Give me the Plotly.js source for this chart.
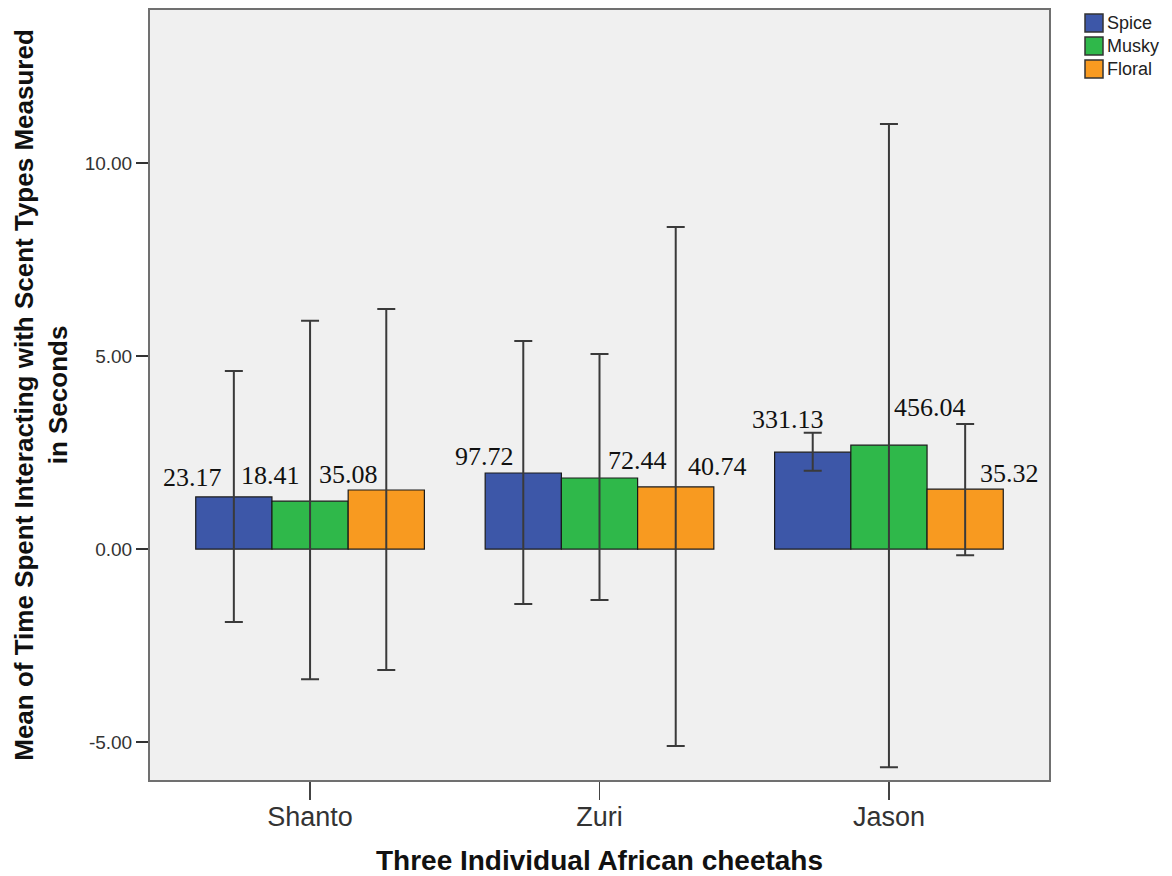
<!DOCTYPE html>
<html>
<head>
<meta charset="utf-8">
<script src="https://cdn.plot.ly/plotly-3.0.1.min.js"></script>
<style>
  html, body { margin: 0; padding: 0; background: #ffffff; }
  #chart { width: 1172px; height: 876px; }
</style>
</head>
<body>
<div id="chart"></div>
<script>
// ---- data ----
var cheetahs = ['Shanto', 'Zuri', 'Jason'];
var seriesNames = ['Spice', 'Musky', 'Floral'];

var meanSpice  = [1.35, 1.97, 2.51];
var meanMusky  = [1.24, 1.84, 2.69];
var meanFloral = [1.53, 1.61, 1.55];

var upperSpice  = [4.61, 5.39, 3.01];
var lowerSpice  = [-1.89, -1.42, 2.03];
var upperMusky  = [5.91, 5.05, 11.01];
var lowerMusky  = [-3.37, -1.32, -5.65];
var upperFloral = [6.22, 8.34, 3.24];
var lowerFloral = [-3.13, -5.10, -0.16];

var labelSpice  = ['23.17', '97.72', '331.13'];
var labelMusky  = ['18.41', '72.44', '456.04'];
var labelFloral = ['35.08', '40.74', '35.32'];

var yTickVals = [-5, 0, 5, 10];
var yTickText = ['-5.00', '0.00', '5.00', '10.00'];

// ---- style ----
var colors = ['#3d57a8', '#2fb84a', '#f89a20'];
var bargap = 0.21;
// label offsets in px relative to bar centre / bar top
var labelXShift = [[-41, -39, -25], [-40, 38, 41], [-38, 42, 44]];
var labelYShift = [[19, 17, 33], [26, 18, 38], [15, 20, 16]];

var means  = [meanSpice, meanMusky, meanFloral];
var uppers = [upperSpice, upperMusky, upperFloral];
var lowers = [lowerSpice, lowerMusky, lowerFloral];
var labels = [labelSpice, labelMusky, labelFloral];

var traces = [];
for (var k = 0; k < 3; k++) {
  (function (k) {
    var m = means[k];
    traces.push({
      type: 'bar',
      name: seriesNames[k],
      x: cheetahs,
      y: m,
      marker: { color: colors[k], line: { color: '#1a1a1a', width: 1.2 } },
      error_y: {
        type: 'data',
        symmetric: false,
        array: uppers[k].map(function (u, i) { return u - m[i]; }),
        arrayminus: lowers[k].map(function (l, i) { return m[i] - l; }),
        color: '#3a3a3a',
        thickness: 2,
        width: 9
      },
      showlegend: false,
      hoverinfo: 'skip'
    });
  })(k);
}

var barW = (1 - bargap) / 3;
var annotations = [];
for (var k = 0; k < 3; k++) {
  for (var i = 0; i < cheetahs.length; i++) {
    annotations.push({
      xref: 'x', yref: 'y',
      x: i + (k - 1) * barW,
      y: means[k][i],
      text: labels[k][i],
      showarrow: false,
      xanchor: 'center', yanchor: 'middle',
      xshift: labelXShift[k][i],
      yshift: labelYShift[k][i],
      font: { family: '"Liberation Serif", "Times New Roman", serif', size: 26, color: '#111' }
    });
  }
}

// custom legend (large swatches like the original)
var plotL = 150, plotR = 1049, plotT = 10, plotB = 780;
var plotWpx = plotR - plotL, plotHpx = plotB - plotT;
var shapes = [];
for (var k = 0; k < 3; k++) {
  var itemTop = 14 + k * 23;
  shapes.push({
    type: 'rect', xref: 'paper', yref: 'paper',
    x0: (1085 - plotL) / plotWpx, x1: (1103 - plotL) / plotWpx,
    y0: (plotB - itemTop) / plotHpx, y1: (plotB - itemTop - 18) / plotHpx,
    fillcolor: colors[k], line: { color: '#333', width: 1.5 }
  });
  annotations.push({
    xref: 'paper', yref: 'paper',
    x: (1105 - plotL) / plotWpx, y: (plotB - itemTop - 9) / plotHpx,
    xanchor: 'left', yanchor: 'middle',
    text: seriesNames[k], showarrow: false,
    font: { family: '"Liberation Sans", Arial, sans-serif', size: 18, color: '#222' }
  });
}

var layout = {
  width: 1172, height: 876,
  margin: { l: 150, r: 123, t: 10, b: 96, pad: 0 },
  paper_bgcolor: '#ffffff',
  plot_bgcolor: '#f0f0f0',
  barmode: 'group',
  bargap: bargap,
  bargroupgap: 0,
  showlegend: false,
  font: { family: '"Liberation Sans", Arial, sans-serif', color: '#333' },
  xaxis: {
    type: 'category',
    range: [-0.553, 2.553],
    showline: true, linecolor: '#707070', linewidth: 2, mirror: true,
    ticks: 'outside', ticklen: 18, tickwidth: 1.5, tickcolor: '#444',
    ticklabelstandoff: -6,
    tickfont: { size: 27, color: '#333' },
    showgrid: false, zeroline: false,
    title: { text: 'Three Individual African cheetahs', font: { size: 28, color: '#111', weight: 'bold' }, standoff: 20 }
  },
  yaxis: {
    range: [-5.98, 13.96],
    tickvals: yTickVals, ticktext: yTickText,
    showline: true, linecolor: '#707070', linewidth: 2, mirror: true,
    ticks: 'outside', ticklen: 12, tickwidth: 1.5, tickcolor: '#333',
    tickfont: { size: 19, color: '#333' },
    showgrid: false, zeroline: false,
    title: { text: 'Mean of Time Spent Interacting with Scent Types Measured<br>in Seconds', font: { size: 26, color: '#111', weight: 'bold' }, standoff: 10 }
  },
  annotations: annotations,
  shapes: shapes
};

Plotly.newPlot('chart', traces, layout, { displayModeBar: false, staticPlot: true });
</script>
</body>
</html>
